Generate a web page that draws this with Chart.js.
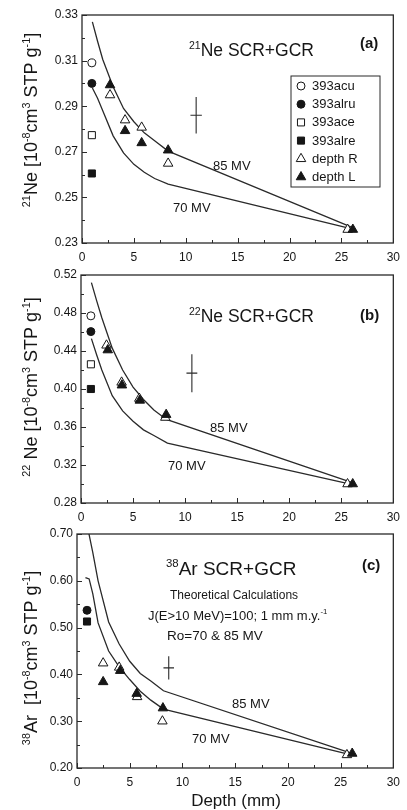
<!DOCTYPE html>
<html>
<head>
<meta charset="utf-8">
<title>SCR+GCR depth profiles</title>
<script src="https://cdn.jsdelivr.net/npm/chart.js@4.4.1/dist/chart.umd.min.js"></script>
<style>
  html, body { margin: 0; padding: 0; background: #fff; }
  .panel { position: absolute; left: 0; width: 407px; }
  #panel-a { top: 0; height: 263px; }
  #panel-b { top: 263px; height: 259px; }
  #panel-c { top: 522px; height: 288px; }
</style>
</head>
<body>
<div class="panel" id="panel-a"><canvas id="chart-a"></canvas></div>
<div class="panel" id="panel-b"><canvas id="chart-b"></canvas></div>
<div class="panel" id="panel-c"><canvas id="chart-c"></canvas></div>
<script>
// ---- data ----
// depth of the four surface chips (mm)
const chipDepth = [0.95];

// 21Ne (10^-8 cm3 STP/g)
const ne21Acu = [0.309];
const ne21Alru = [0.300];
const ne21Ace = [0.2773];
const ne21Alre = [0.2605];
const ne21DepthR = [2.7, 4.15, 5.75, 8.3, 25.6];
const ne21ValR = [0.2949, 0.2839, 0.2807, 0.2649, 0.2359];
const ne21DepthL = [2.7, 4.15, 5.75, 8.3, 26.1];
const ne21ValL = [0.2993, 0.2792, 0.2739, 0.2707, 0.2359];
const ne21ModelDepth = [1.0, 1.5, 2, 3, 4, 5, 6, 7, 8.3, 26.2];
const ne21Model85 = [0.327, 0.3185, 0.3105, 0.2985, 0.289, 0.2832, 0.2783, 0.2748, 0.2703, 0.2365];
const ne21Model70 = [0.298, 0.2935, 0.288, 0.277, 0.2695, 0.2645, 0.261, 0.2583, 0.2558, 0.236];
const ne21Err = [11.0, 0.286, 0.55, 0.008]; // depth, value, ±depth, ±value

// 22Ne
const ne22Acu = [0.477];
const ne22Alru = [0.4604];
const ne22Ace = [0.426];
const ne22Alre = [0.400];
const ne22DepthR = [2.45, 3.9, 5.6, 8.1, 25.6];
const ne22ValR = [0.446, 0.407, 0.390, 0.370, 0.300];
const ne22DepthL = [2.57, 3.93, 5.65, 8.18, 26.1];
const ne22ValL = [0.441, 0.404, 0.388, 0.373, 0.300];
const ne22ModelDepth85 = [1.0, 1.5, 2, 3, 4, 5, 6, 7, 8.2, 26.2];
const ne22Model85 = [0.512, 0.493, 0.475, 0.443, 0.420, 0.402, 0.389, 0.378, 0.368, 0.301];
const ne22ModelDepth70 = [1.0, 1.5, 2, 3, 4, 5, 6, 7, 8.3, 26.2];
const ne22Model70 = [0.453, 0.436, 0.420, 0.393, 0.377, 0.366, 0.357, 0.351, 0.343, 0.299];
const ne22Err = [10.65, 0.4167, 0.52, 0.020];

// 38Ar
const ar38Alru = [0.537];
const ar38Alre = [0.513];
const ar38DepthR = [2.48, 4.0, 5.7, 8.1, 25.6];
const ar38ValR = [0.424, 0.415, 0.352, 0.300, 0.228];
const ar38DepthL = [2.48, 4.1, 5.66, 8.15, 26.1];
const ar38ValL = [0.384, 0.408, 0.359, 0.328, 0.231];
const ar38ModelDepth85 = [1.0, 1.5, 2, 3, 4, 5, 6, 7, 8.2, 26.2];
const ar38Model85 = [0.715, 0.66, 0.60, 0.512, 0.465, 0.428, 0.402, 0.386, 0.365, 0.230];
const ar38ModelDepth70 = [0.8, 1.15, 1.5, 2, 3, 4, 5, 6, 7, 8.2, 26.2];
const ar38Model70 = [0.607, 0.604, 0.572, 0.510, 0.450, 0.416, 0.389, 0.364, 0.345, 0.326, 0.227];
const ar38Err = [8.7, 0.414, 0.5, 0.025];

const legendLabels = ['393acu', '393alru', '393ace', '393alre', 'depth R', 'depth L'];

// ---- styling ----
const FONT = '"Liberation Sans", Arial, Helvetica, sans-serif';
const INK = '#161616';
const LINE = '#2a2a2a';

const markers = {
  acu: { shape: 'circle', r: 4, filled: false },
  alru: { shape: 'circle', r: 4, filled: true },
  ace: { shape: 'rect', r: 5, filled: false },
  alre: { shape: 'rect', r: 5, filled: true },
  depthR: { shape: 'triangle', r: 5.5, filled: false },
  depthL: { shape: 'triangle', r: 5.5, filled: true }
};
const legendOrder = ['acu', 'alru', 'ace', 'alre', 'depthR', 'depthL'];

function pts(xs, ys) {
  return ys.map((y, i) => ({ x: xs[i % xs.length], y: y }));
}

function markerSet(label, xs, ys, key, order) {
  const m = markers[key];
  return {
    label: label,
    data: pts(xs, ys),
    pointStyle: m.shape,
    pointRadius: m.r,
    pointBorderWidth: 1,
    pointBorderColor: INK,
    pointBackgroundColor: m.filled ? INK : '#fff',
    showLine: false,
    order: order
  };
}

function curveSet(label, xs, ys) {
  return {
    label: label,
    data: pts(xs, ys),
    showLine: true,
    borderColor: LINE,
    borderWidth: 1.3,
    pointRadius: 0,
    tension: 0,
    order: 5
  };
}

function crossSet(err) {
  const [x, y, dx, dy] = err;
  return {
    label: 'uncertainty',
    data: [{ x: x, y: y - dy }, { x: x, y: y + dy }, { x: x, y: null },
           { x: x - dx, y: y }, { x: x + dx, y: y }],
    showLine: true,
    spanGaps: false,
    borderColor: LINE,
    borderWidth: 1.1,
    pointRadius: 0,
    order: 5
  };
}

// text with superscript runs: parts = [[text, isSup], ...]
function richWidth(ctx, item) {
  let w = 0;
  item.parts.forEach(([text, sup]) => {
    ctx.font = (item.bold ? 'bold ' : '') + (sup ? item.size * 0.6 : item.size) + 'px ' + FONT;
    w += ctx.measureText(text).width;
  });
  return w;
}

function drawRich(ctx, item, x, y) {
  let cx = x;
  item.parts.forEach(([text, sup]) => {
    ctx.font = (item.bold ? 'bold ' : '') + (sup ? item.size * 0.6 : item.size) + 'px ' + FONT;
    ctx.fillText(text, cx, sup ? y - item.size * 0.4 : y);
    cx += ctx.measureText(text).width;
  });
}

function drawMarker(ctx, key, x, y) {
  const m = markers[key];
  ctx.beginPath();
  if (m.shape === 'circle') {
    ctx.arc(x, y, m.r, 0, Math.PI * 2);
  } else if (m.shape === 'rect') {
    const h = m.r * Math.SQRT1_2;
    ctx.rect(x - h, y - h, h * 2, h * 2);
  } else {
    let a = 0;
    for (let i = 0; i < 3; i++) {
      const px = x + Math.sin(a) * m.r, py = y - Math.cos(a) * m.r;
      if (i === 0) ctx.moveTo(px, py); else ctx.lineTo(px, py);
      a += Math.PI * 2 / 3;
    }
    ctx.closePath();
  }
  ctx.fillStyle = m.filled ? INK : '#fff';
  ctx.fill();
  ctx.lineWidth = 1;
  ctx.strokeStyle = INK;
  ctx.stroke();
}

// inward tick marks, frame, annotations, rotated axis title and inset legend
const decorations = {
  id: 'decorations',
  afterDraw(chart, args, opts) {
    const ctx = chart.ctx;
    const a = chart.chartArea;
    const xs = chart.scales.x, ys = chart.scales.y;
    ctx.save();
    ctx.strokeStyle = LINE;
    ctx.lineWidth = 1;
    ctx.beginPath();
    xs.ticks.forEach(t => {
      const px = Math.round(xs.getPixelForValue(t.value)) + 0.5;
      const len = t.label ? 5 : 3;
      ctx.moveTo(px, a.bottom);
      ctx.lineTo(px, a.bottom - len);
    });
    ys.ticks.forEach(t => {
      const py = Math.round(ys.getPixelForValue(t.value)) + 0.5;
      const len = t.label ? 5 : 3;
      ctx.moveTo(a.left, py);
      ctx.lineTo(a.left + len, py);
    });
    ctx.stroke();

    ctx.lineWidth = 1.3;
    ctx.strokeRect(a.left, a.top, a.right - a.left, a.bottom - a.top);

    ctx.fillStyle = INK;
    ctx.textBaseline = 'alphabetic';
    ctx.textAlign = 'left';
    (opts.texts || []).forEach(t => {
      const x = t.center ? t.x - richWidth(ctx, t) / 2 : t.x;
      ctx.fillStyle = INK;
      drawRich(ctx, t, x, t.y);
    });

    if (opts.yTitle) {
      const t = opts.yTitle;
      ctx.save();
      ctx.translate(t.x, t.y);
      ctx.rotate(-Math.PI / 2);
      drawRich(ctx, t, -richWidth(ctx, t) / 2, 0);
      ctx.restore();
    }

    if (opts.legend) {
      const L = opts.legend;
      ctx.lineWidth = 1;
      ctx.strokeStyle = LINE;
      ctx.strokeRect(L.x, L.y, L.w, L.h);
      ctx.font = '13px ' + FONT;
      ctx.textBaseline = 'middle';
      legendOrder.forEach((key, i) => {
        const cy = L.y + L.first + i * L.step;
        drawMarker(ctx, key, L.x + 10, cy);
        ctx.fillStyle = INK;
        ctx.fillText(legendLabels[i], L.x + 21, cy + 0.5);
      });
    }
    ctx.restore();
  }
};

function axisFont() {
  return { family: FONT, size: 12 };
}

function makePanel(canvasId, p, datasets, deco) {
  const yStep = p.yStep;
  return new Chart(document.getElementById(canvasId), {
    type: 'scatter',
    data: { datasets: datasets },
    plugins: [decorations],
    options: {
      responsive: true,
      maintainAspectRatio: false,
      animation: false,
      events: [],
      layout: { padding: { top: p.top, right: p.right, left: 0, bottom: 0 } },
      plugins: {
        legend: { display: false },
        tooltip: { enabled: false },
        decorations: deco
      },
      scales: {
        x: {
          type: 'linear',
          min: 0,
          max: 30,
          ticks: {
            stepSize: 2.5,
            autoSkip: false,
            maxRotation: 0,
            padding: 7,
            color: INK,
            font: axisFont(),
            callback: v => (Math.abs(v % 5) < 1e-6 ? String(v) : '')
          },
          grid: { display: false, drawTicks: false },
          border: { display: false },
          afterFit: s => { s.height = p.xHeight; }
        },
        y: {
          type: 'linear',
          min: p.yMin,
          max: p.yMax,
          ticks: {
            stepSize: yStep,
            autoSkip: false,
            padding: 4,
            color: INK,
            font: axisFont(),
            callback: v => (Math.round((v - p.yMin) / yStep) % 2 === 0 ? v.toFixed(2) : '')
          },
          grid: { display: false, drawTicks: false },
          border: { display: false },
          afterFit: s => { s.width = p.left; }
        }
      }
    }
  });
}

// (a) 21Ne
makePanel('chart-a',
  { top: 15, right: 11, left: 82, xHeight: 20, yMin: 0.23, yMax: 0.33, yStep: 0.01 },
  [
    curveSet('85 MV', ne21ModelDepth, ne21Model85),
    curveSet('70 MV', ne21ModelDepth, ne21Model70),
    crossSet(ne21Err),
    markerSet(legendLabels[0], chipDepth, ne21Acu, 'acu', 2),
    markerSet(legendLabels[1], chipDepth, ne21Alru, 'alru', 1),
    markerSet(legendLabels[2], chipDepth, ne21Ace, 'ace', 2),
    markerSet(legendLabels[3], chipDepth, ne21Alre, 'alre', 1),
    markerSet(legendLabels[4], ne21DepthR, ne21ValR, 'depthR', 2),
    markerSet(legendLabels[5], ne21DepthL, ne21ValL, 'depthL', 1)
  ],
  {
    texts: [
      { parts: [['21', true], ['Ne SCR+GCR', false]], x: 189, y: 56, size: 17.5 },
      { parts: [['(a)', false]], x: 360, y: 48, size: 15, bold: true },
      { parts: [['85 MV', false]], x: 213, y: 170, size: 13 },
      { parts: [['70 MV', false]], x: 173, y: 212, size: 13 }
    ],
    yTitle: { parts: [['21', true], ['Ne [10', false], ['-8', true], ['cm', false], ['3', true],
                      [' STP g', false], ['-1', true], [']', false]], x: 37, y: 120, size: 18 },
    legend: { x: 291, y: 76, w: 89, h: 111, first: 10, step: 18.2 }
  }
);

// (b) 22Ne
makePanel('chart-b',
  { top: 12, right: 10, left: 81, xHeight: 19, yMin: 0.28, yMax: 0.52, yStep: 0.02 },
  [
    curveSet('85 MV', ne22ModelDepth85, ne22Model85),
    curveSet('70 MV', ne22ModelDepth70, ne22Model70),
    crossSet(ne22Err),
    markerSet(legendLabels[0], chipDepth, ne22Acu, 'acu', 2),
    markerSet(legendLabels[1], chipDepth, ne22Alru, 'alru', 1),
    markerSet(legendLabels[2], chipDepth, ne22Ace, 'ace', 2),
    markerSet(legendLabels[3], chipDepth, ne22Alre, 'alre', 1),
    markerSet(legendLabels[4], ne22DepthR, ne22ValR, 'depthR', 2),
    markerSet(legendLabels[5], ne22DepthL, ne22ValL, 'depthL', 1)
  ],
  {
    texts: [
      { parts: [['22', true], ['Ne SCR+GCR', false]], x: 189, y: 59, size: 17.5 },
      { parts: [['(b)', false]], x: 360, y: 57, size: 15, bold: true },
      { parts: [['85 MV', false]], x: 210, y: 169, size: 13 },
      { parts: [['70 MV', false]], x: 168, y: 207, size: 13 }
    ],
    yTitle: { parts: [['22', true], [' Ne [10', false], ['-8', true], ['cm', false], ['3', true],
                      [' STP g', false], ['-1', true], [']', false]], x: 37, y: 124, size: 18 }
  }
);

// (c) 38Ar
makePanel('chart-c',
  { top: 12, right: 12, left: 77, xHeight: 42, yMin: 0.20, yMax: 0.70, yStep: 0.05 },
  [
    curveSet('85 MV', ar38ModelDepth85, ar38Model85),
    curveSet('70 MV', ar38ModelDepth70, ar38Model70),
    crossSet(ar38Err),
    markerSet(legendLabels[1], chipDepth, ar38Alru, 'alru', 1),
    markerSet(legendLabels[3], chipDepth, ar38Alre, 'alre', 1),
    markerSet(legendLabels[4], ar38DepthR, ar38ValR, 'depthR', 2),
    markerSet(legendLabels[5], ar38DepthL, ar38ValL, 'depthL', 1)
  ],
  {
    texts: [
      { parts: [['38', true], ['Ar SCR+GCR', false]], x: 166, y: 53, size: 19 },
      { parts: [['(c)', false]], x: 362, y: 48, size: 15, bold: true },
      { parts: [['Theoretical Calculations', false]], x: 170, y: 77, size: 12 },
      { parts: [['J(E>10 MeV)=100; 1 mm m.y.', false], ['-1', true]], x: 148, y: 97.5, size: 13 },
      { parts: [['Ro=70 & 85 MV', false]], x: 167, y: 118, size: 13.5 },
      { parts: [['85 MV', false]], x: 232, y: 186, size: 13 },
      { parts: [['70 MV', false]], x: 192, y: 221, size: 13 },
      { parts: [['Depth (mm)', false]], x: 236, y: 284, size: 17, center: true }
    ],
    yTitle: { parts: [['38', true], ['Ar  [10', false], ['-8', true], ['cm', false], ['3', true],
                      [' STP g', false], ['-1', true], [']', false]], x: 37, y: 136, size: 18 }
  }
);
</script>
</body>
</html>
